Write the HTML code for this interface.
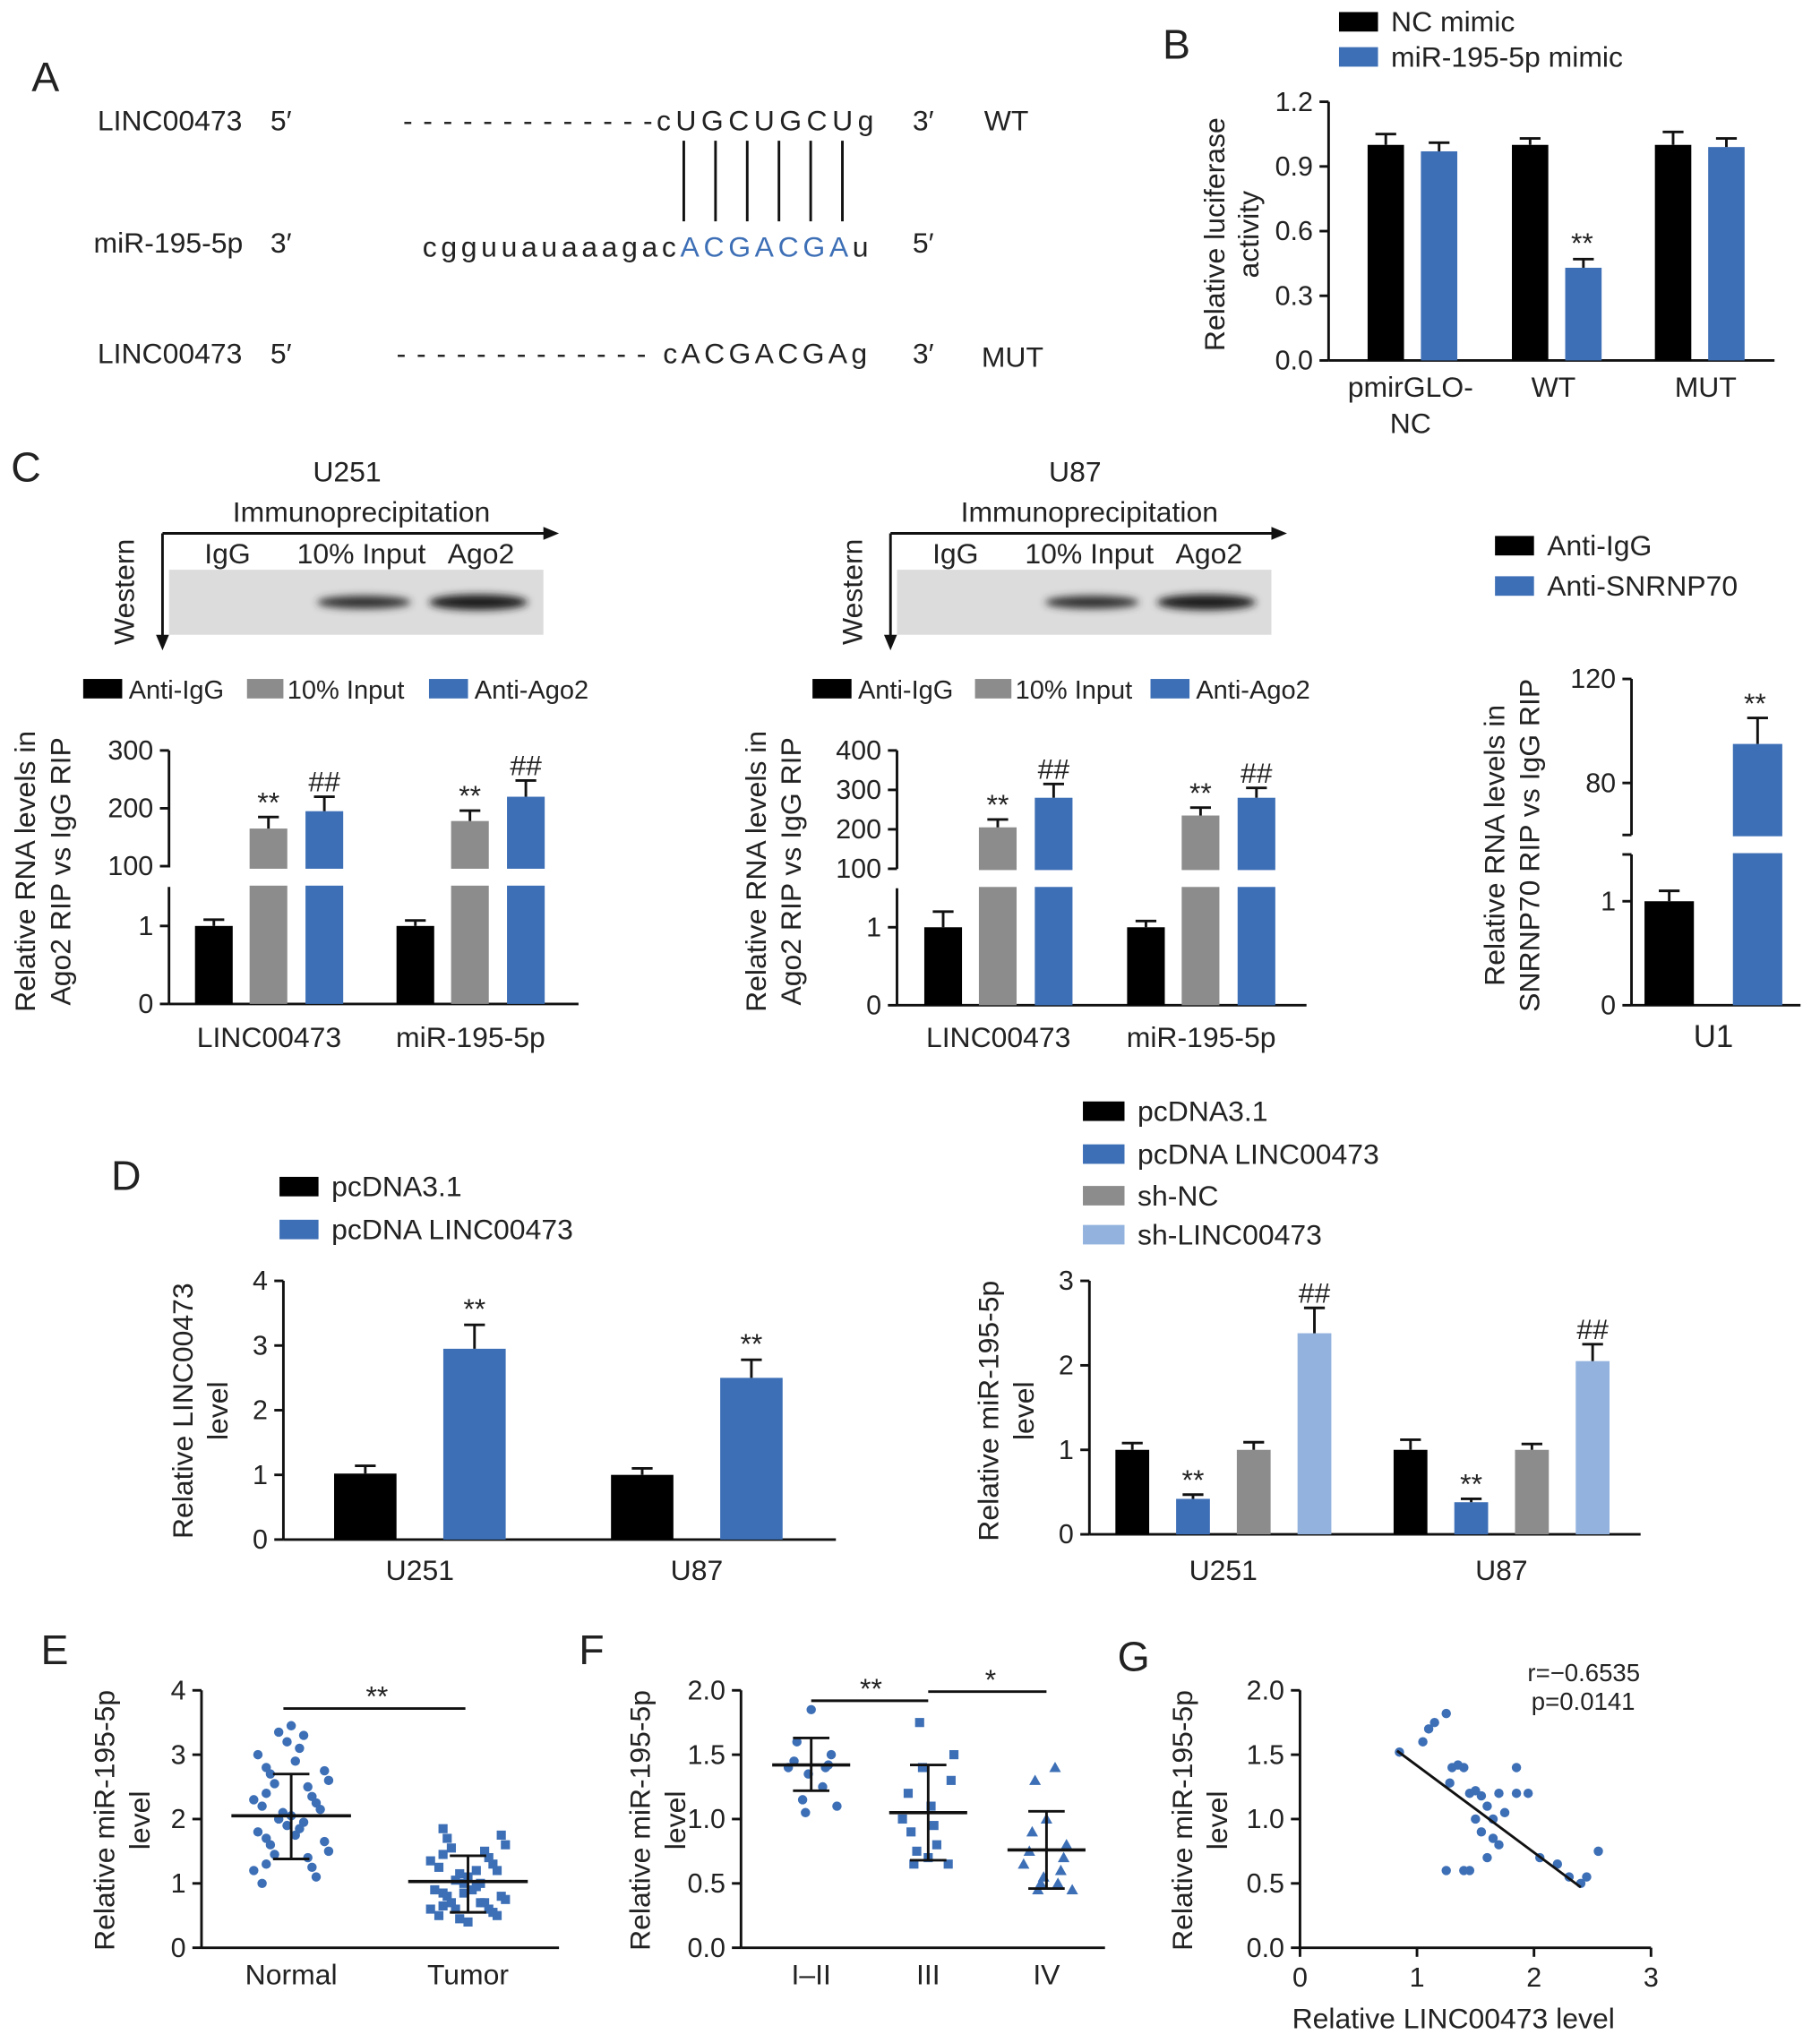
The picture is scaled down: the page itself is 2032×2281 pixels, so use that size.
<!DOCTYPE html>
<html><head><meta charset="utf-8">
<style>
html,body{margin:0;padding:0;background:#fff;}
svg{display:block;font-family:"Liberation Sans",Arial,sans-serif;}
</style></head>
<body>
<svg id="fig" width="2032" height="2281" viewBox="0 0 1400 1571" xmlns="http://www.w3.org/2000/svg">
<defs><filter id="blur" x="-50%" y="-100%" width="200%" height="300%"><feGaussianBlur stdDeviation="3"/></filter></defs>
</svg>
<script>
// ---------- data ----------
const lucCats = ["pmirGLO-NC","WT","MUT"];
const lucNC = [1.0,1.0,1.0];
const lucMimic = [0.97,0.43,0.99];
const lucNCErr = [0.05,0.03,0.06];
const lucMimicErr = [0.04,0.04,0.04];

const ripCats = ["LINC00473","miR-195-5p"];
const u251IgG = [1.0,1.0];
const u251Input = [165,178];
const u251Ago2 = [195,220];
const u251IgGErr = [0.08,0.07];
const u251InputErr = [20,18];
const u251Ago2Err = [25,28];
const u87IgG = [1.0,1.0];
const u87Input = [205,235];
const u87Ago2 = [280,280];
const u87IgGErr = [0.2,0.08];
const u87InputErr = [20,20];
const u87Ago2Err = [35,25];

const u1IgG = [1.0];
const u1SNRNP = [95];
const u1IgGErr = [0.1];
const u1SNRNPErr = [10];

const cellCats = ["U251","U87"];
const linPc = [1.02,1.0];
const linPcL = [2.95,2.5];
const linPcErr = [0.12,0.1];
const linPcLErr = [0.37,0.28];

const mirPc = [1.0,1.0];
const mirPcL = [0.42,0.38];
const mirShNC = [1.0,1.0];
const mirShL = [2.38,2.05];
const mirPcErr = [0.08,0.12];
const mirPcLErr = [0.05,0.04];
const mirShNCErr = [0.09,0.07];
const mirShLErr = [0.3,0.2];

const eNormal = [3.45,3.35,3.3,3.2,3.1,3.0,2.9,2.8,2.75,2.7,2.6,2.55,2.5,2.4,2.35,2.3,2.25,2.2,2.15,2.1,2.05,2.0,1.95,1.9,1.85,1.8,1.75,1.7,1.65,1.6,1.5,1.45,1.4,1.3,1.25,1.2,1.1,1.0];
const eTumor = [1.85,1.75,1.7,1.6,1.55,1.5,1.45,1.4,1.35,1.3,1.25,1.2,1.15,1.1,1.05,1.0,1.0,0.95,0.9,0.9,0.85,0.8,0.8,0.75,0.7,0.7,0.65,0.6,0.6,0.55,0.5,0.5,0.45,0.4,0.6,0.7,0.85,1.2];
const eStats = [[2.05,1.38,2.7],[1.03,0.55,1.43]];

const fI = [1.85,1.6,1.5,1.45,1.42,1.4,1.4,1.35,1.25,1.15,1.1,1.05];
const fIII = [1.75,1.5,1.4,1.3,1.2,1.1,1.0,0.95,0.9,0.8,0.75,0.7,0.65,0.65];
const fIV = [1.4,1.3,1.0,0.9,0.8,0.75,0.7,0.65,0.6,0.55,0.5,0.45,0.45,0.5];
const fStats = [[1.42,1.22,1.63],[1.05,0.68,1.42],[0.76,0.46,1.06]];

const gX = [0.85,1.05,1.1,1.15,1.25,1.3,1.35,1.4,1.28,1.45,1.5,1.55,1.6,1.65,1.7,1.75,1.85,1.85,1.95,1.25,1.4,1.45,1.6,1.65,1.7,2.05,2.2,2.3,2.4,2.45,2.55,1.55,1.5];
const gY = [1.52,1.6,1.7,1.75,1.82,1.4,1.42,1.4,1.28,1.2,1.22,1.18,1.1,1.0,1.2,1.05,1.4,1.2,1.2,0.6,0.6,0.6,0.7,0.85,0.8,0.7,0.65,0.55,0.5,0.55,0.75,0.9,1.0];
const gFit = [[0.83,1.53],[2.4,0.47]];

// ---------- helpers ----------
const svg = document.getElementById('fig');
const NS = 'http://www.w3.org/2000/svg';
const BLUE = '#3d6fb6', GRAY = '#8c8c8c', LBLUE = '#93b3de', BLACK = '#000';
function el(tag, attrs, name, parent) {
  const e = document.createElementNS(NS, tag);
  for (const k in attrs) e.setAttribute(k, attrs[k]);
  
  
  (parent || svg).appendChild(e);
  return e;
}
function T(x, y, s, name, o) {
  o = o || {};
  const a = {x: x, y: y, 'font-size': o.size || 21, 'text-anchor': o.anchor || 'middle', fill: o.fill || '#222'};
  if (o.rot) a.transform = 'rotate(-90 ' + x + ' ' + y + ')';
  if (o.len) { a.textLength = o.len; a.lengthAdjust = 'spacing'; }
  const t = el('text', a, name);
  t.textContent = s;
  return t;
}
function L(x1, y1, x2, y2, name, w) {
  return el('line', {x1: x1, y1: y1, x2: x2, y2: y2, stroke: '#111', 'stroke-width': w || 2}, name);
}
function lin(v0, v1, p0, p1) { return v => p0 + (v - v0) * (p1 - p0) / (v1 - v0); }
function bar(x, w, y0, yv, color, name) {
  return el('rect', {x: x, y: Math.min(y0, yv), width: w, height: Math.abs(y0 - yv), fill: color}, name);
}
function err(cx, yTop, yErr, name) {
  L(cx, yTop, cx, yErr, name, 2);
  L(cx - 8, yErr, cx + 8, yErr, name + '-cap', 2);
}
function yTicks(ax, vals, sc, labels, name) {
  vals.forEach((v, i) => {
    L(ax - 7, sc(v), ax, sc(v), name + '-tick');
    T(ax - 12, sc(v) + 7, labels[i], name + '-label', {anchor: 'end', size: 21});
  });
}
function legend(x, y, color, s, name, w, size, gap) {
  el('rect', {x: x, y: y - 8, width: w || 30, height: 15, fill: color}, name + '-swatch');
  T(x + (w || 30) + (gap || 10), y + 7, s, name, {anchor: 'start', size: size || 22});
}

// ---------- Panel A ----------
T(35, 70, 'A', 'panel-a-label', {size: 32, anchor: 'middle'});
T(75, 100, 'LINC00473', 'wt-name', {anchor: 'start', size: 22});
T(208, 100, '5′', 'wt-5', {anchor: 'start', size: 22});
T(310, 100, '- - - - - - - - - - - - -', 'wt-dashes', {anchor: 'start', size: 22, len: 192});
T(505, 100, 'cUGCUGCUg', 'wt-seq', {anchor: 'start', size: 22, len: 167});
T(702, 100, '3′', 'wt-3', {anchor: 'start', size: 22});
T(757, 100, 'WT', 'wt-tag', {anchor: 'start', size: 22});
for (let i = 0; i < 6; i++) L(526 + i * 24.4, 108, 526 + i * 24.4, 170, 'pair-line');
T(72, 194, 'miR-195-5p', 'mir-name', {anchor: 'start', size: 22});
T(208, 194, '3′', 'mir-3', {anchor: 'start', size: 22});
(function(){ const t = T(325, 197, '', 'mir-seq', {anchor: 'start', size: 22, len: 343});
  const a = document.createElementNS(NS,'tspan'); a.textContent='cgguuauaaagac'; t.appendChild(a);
  const b = document.createElementNS(NS,'tspan'); b.textContent='ACGACGA'; b.setAttribute('fill', BLUE); t.appendChild(b);
  const c = document.createElementNS(NS,'tspan'); c.textContent='u'; t.appendChild(c); })();
T(702, 194, '5′', 'mir-5', {anchor: 'start', size: 22});
T(75, 279, 'LINC00473', 'mut-name', {anchor: 'start', size: 22});
T(208, 279, '5′', 'mut-5', {anchor: 'start', size: 22});
T(305, 279, '- - - - - - - - - - - - -', 'mut-dashes', {anchor: 'start', size: 22, len: 192});
T(510, 279, 'cACGACGAg', 'mut-seq', {anchor: 'start', size: 22, len: 157});
T(702, 279, '3′', 'mut-3', {anchor: 'start', size: 22});
T(755, 282, 'MUT', 'mut-tag', {anchor: 'start', size: 22});

// ---------- Panel B ----------
T(905, 45, 'B', 'panel-b-label', {size: 32});
legend(1030, 17, BLACK, 'NC mimic', 'legend-nc-mimic');
legend(1030, 44, BLUE, 'miR-195-5p mimic', 'legend-mir-mimic');
(function(){
  const ax = 1022, sy = lin(0, 1.2, 277, 78);
  L(ax, 78, ax, 277, 'b-y-axis'); L(ax, 277, 1365, 277, 'b-x-axis');
  const tv = [0, 0.3, 0.6, 0.9, 1.2];
  yTicks(ax, tv, sy, tv.map(v => v.toFixed(1)), 'b-y');
  const gx = [1052, 1163, 1273];
  lucCats.forEach((c, i) => {
    bar(gx[i], 28, sy(0), sy(lucNC[i]), BLACK, 'bar-nc-' + c);
    err(gx[i] + 14, sy(lucNC[i]), sy(lucNC[i] + lucNCErr[i]), 'err-nc');
    bar(gx[i] + 41, 28, sy(0), sy(lucMimic[i]), BLUE, 'bar-mimic-' + c);
    err(gx[i] + 55, sy(lucMimic[i]), sy(lucMimic[i] + lucMimicErr[i]), 'err-mimic');
  });
  T(1217, 194, '**', 'b-sig', {size: 22});
  T(1085, 305, 'pmirGLO-', 'b-xlabel-1', {size: 22}); T(1085, 333, 'NC', 'b-xlabel-1b', {size: 22});
  T(1195, 305, 'WT', 'b-xlabel-2', {size: 22}); T(1312, 305, 'MUT', 'b-xlabel-3', {size: 22});
  T(942, 180, 'Relative luciferase', 'b-y-title', {rot: true, size: 22});
  T(968, 180, 'activity', 'b-y-title-2', {rot: true, size: 22});
})();

// ---------- Panel C ----------
T(20, 370, 'C', 'panel-c-label', {size: 32});
function ripBlock(ox, cellName, igg, inp, ago, iggE, inpE, agoE, upTicks, upSc, loSc, breakTop, breakBot, px, legX) {
  T(ox + 142, 370, cellName, 'c-cell-' + cellName, {size: 22});
  T(ox + 153, 401, 'Immunoprecipitation', 'c-ip-' + cellName, {size: 22});
  L(ox, 410, ox + 295, 410, 'c-ip-arrow'); el('path', {d: 'M' + (ox + 305) + ' 410 l-12 -5 l0 10 z', fill: '#111'}, 'c-arrowhead');
  L(ox, 410, ox, 490, 'c-west-arrow'); el('path', {d: 'M' + ox + ' 500 l-5 -12 l10 0 z', fill: '#111'}, 'c-arrowhead-v');
  T(ox - 22, 455, 'Western', 'c-western-' + cellName, {rot: true, size: 22});
  T(ox + 50, 433, 'IgG', 'c-lane-igg', {size: 22}); T(ox + 153, 433, '10% Input', 'c-lane-input', {size: 22}); T(ox + 245, 433, 'Ago2', 'c-lane-ago2', {size: 22});
  el('rect', {x: ox + 5, y: 438, width: 288, height: 50, fill: '#dcdcdc'}, 'c-blot-' + cellName);
  el('ellipse', {cx: ox + 155, cy: 463, rx: 36, ry: 5, fill: '#333', filter: 'url(#blur)'}, 'c-band-input');
  el('ellipse', {cx: ox + 243, cy: 463, rx: 38, ry: 6, fill: '#1a1a1a', filter: 'url(#blur)'}, 'c-band-ago2');
  legend(legX[0], 530, BLACK, 'Anti-IgG', 'legend-anti-igg', 30, 20, 5);
  legend(legX[1], 530, GRAY, '10% Input', 'legend-input', 28, 20, 3);
  legend(legX[2], 530, BLUE, 'Anti-Ago2', 'legend-anti-ago2', 30, 20, 5);
  const ax = ox + 5;
  const sy = v => v <= 1.5 ? loSc(v) : upSc(v);
  L(ax, upSc(upTicks[upTicks.length - 1]), ax, breakTop, 'c-y-axis-upper');
  L(ax, breakBot, ax, loSc(0), 'c-y-axis-lower');
  L(ax, loSc(0), ax + 315, loSc(0), 'c-x-axis');
  yTicks(ax, upTicks, upSc, upTicks.map(String), 'c-y-upper');
  yTicks(ax, [0, 1], loSc, ['0', '1'], 'c-y-lower');
  ripCats.forEach((c, i) => {
    const b = ax + px[i];
    bar(b, 29, loSc(0), sy(igg[i]), BLACK, 'bar-igg-' + c);
    err(b + 14.5, sy(igg[i]), sy(igg[i] + iggE[i]), 'err-igg');
    bar(b + 42, 29, loSc(0), sy(inp[i]), GRAY, 'bar-input-' + c);
    err(b + 56.5, sy(inp[i]), sy(inp[i] + inpE[i]), 'err-input');
    T(b + 56.5, sy(inp[i] + inpE[i]) - 4, '**', 'c-sig-input', {size: 22});
    bar(b + 85, 29, loSc(0), sy(ago[i]), BLUE, 'bar-ago2-' + c);
    err(b + 99.5, sy(ago[i]), sy(ago[i] + agoE[i]), 'err-ago2');
    T(b + 99.5, sy(ago[i] + agoE[i]) - 4, '##', 'c-sig-ago2', {size: 22});
    T(b + 57, 805, c, 'c-xlabel-' + c, {size: 22});
  });
  el('rect', {x: ax + 3, y: breakTop + 1, width: 310, height: breakBot - breakTop - 2, fill: '#fff'}, 'c-axis-break');
}
ripBlock(125, 'U251', u251IgG, u251Input, u251Ago2, u251IgGErr, u251InputErr, u251Ago2Err,
  [100, 200, 300], lin(100, 300, 666, 577), lin(0, 1, 772, 712), 667, 682, [20, 175], [64, 190, 330]);
T(27, 670, 'Relative RNA levels in', 'c-y-title-u251', {rot: true, size: 22});
T(54, 670, 'Ago2 RIP vs IgG RIP', 'c-y-title-u251-2', {rot: true, size: 22});
ripBlock(685, 'U87', u87IgG, u87Input, u87Ago2, u87IgGErr, u87InputErr, u87Ago2Err,
  [100, 200, 300, 400], lin(100, 400, 668, 577), lin(0, 1, 773, 713), 668, 683, [21, 177], [625, 750, 885]);
T(589, 670, 'Relative RNA levels in', 'c-y-title-u87', {rot: true, size: 22});
T(616, 670, 'Ago2 RIP vs IgG RIP', 'c-y-title-u87-2', {rot: true, size: 22});

// U1 panel
(function(){
  legend(1150, 420, BLACK, 'Anti-IgG', 'legend-u1-anti-igg', 30);
  legend(1150, 451, BLUE, 'Anti-SNRNP70', 'legend-u1-anti-snrnp70', 30);
  const ax = 1255, up = lin(80, 120, 602, 522), lo = lin(0, 1, 773, 693);
  const sy = v => v <= 1.5 ? lo(v) : up(v);
  L(ax, 522, ax, 642, 'u1-y-axis-upper'); L(ax, 657, ax, 773, 'u1-y-axis-lower');
  L(ax - 7, 642, ax, 642, 'u1-break-tick'); L(ax - 7, 657, ax, 657, 'u1-break-tick');
  L(ax, 773, 1385, 773, 'u1-x-axis');
  yTicks(ax, [80, 120], up, ['80', '120'], 'u1-y-upper');
  yTicks(ax, [0, 1], lo, ['0', '1'], 'u1-y-lower');
  bar(1265, 38, lo(0), sy(u1IgG[0]), BLACK, 'bar-u1-igg');
  err(1284, sy(u1IgG[0]), sy(u1IgG[0] + u1IgGErr[0]), 'err-u1-igg');
  bar(1333, 38, lo(0), sy(u1SNRNP[0]), BLUE, 'bar-u1-snrnp70');
  err(1352, sy(u1SNRNP[0]), sy(u1SNRNP[0] + u1SNRNPErr[0]), 'err-u1-snrnp70');
  el('rect', {x: 1258, y: 643, width: 125, height: 13, fill: '#fff'}, 'u1-axis-break');
  T(1350, 548, '**', 'u1-sig', {size: 22});
  T(1318, 805, 'U1', 'u1-xlabel', {size: 24});
  T(1157, 650, 'Relative RNA levels in', 'u1-y-title', {rot: true, size: 22});
  T(1184, 650, 'SNRNP70 RIP vs IgG RIP', 'u1-y-title-2', {rot: true, size: 22});
})();

// ---------- Panel D ----------
T(97, 915, 'D', 'panel-d-label', {size: 32});
legend(215, 913, BLACK, 'pcDNA3.1', 'legend-d-pcdna', 30);
legend(215, 946, BLUE, 'pcDNA LINC00473', 'legend-d-pcdna-linc', 30);
(function(){
  const ax = 218, sy = lin(0, 4, 1184, 985);
  L(ax, 985, ax, 1184, 'd1-y-axis'); L(ax, 1184, 643, 1184, 'd1-x-axis');
  yTicks(ax, [0,1,2,3,4], sy, ['0','1','2','3','4'], 'd1-y');
  const gx = [257, 470];
  cellCats.forEach((c, i) => {
    bar(gx[i], 48, sy(0), sy(linPc[i]), BLACK, 'bar-d1-pcdna-' + c);
    err(gx[i] + 24, sy(linPc[i]), sy(linPc[i] + linPcErr[i]), 'err-d1-pcdna');
    bar(gx[i] + 84, 48, sy(0), sy(linPcL[i]), BLUE, 'bar-d1-pcdna-linc-' + c);
    err(gx[i] + 108, sy(linPcL[i]), sy(linPcL[i] + linPcLErr[i]), 'err-d1-linc');
    T(gx[i] + 108, sy(linPcL[i] + linPcLErr[i]) - 5, '**', 'd1-sig', {size: 22});
    T(gx[i] + 66, 1215, c, 'd1-xlabel-' + c, {size: 22});
  });
  T(148, 1085, 'Relative LINC00473', 'd1-y-title', {rot: true, size: 22});
  T(175, 1085, 'level', 'd1-y-title-2', {rot: true, size: 22});
})();
legend(833, 855, BLACK, 'pcDNA3.1', 'legend-d2-pcdna', 32);
legend(833, 888, BLUE, 'pcDNA LINC00473', 'legend-d2-pcdna-linc', 32);
legend(833, 920, GRAY, 'sh-NC', 'legend-d2-shnc', 32);
legend(833, 950, LBLUE, 'sh-LINC00473', 'legend-d2-shlinc', 32);
(function(){
  const ax = 838, sy = lin(0, 3, 1180, 985);
  L(ax, 985, ax, 1180, 'd2-y-axis'); L(ax, 1180, 1262, 1180, 'd2-x-axis');
  yTicks(ax, [0,1,2,3], sy, ['0','1','2','3'], 'd2-y');
  const gx = [858, 1072];
  const ser = [[mirPc, mirPcErr, BLACK, '', 'pcdna'], [mirPcL, mirPcLErr, BLUE, '**', 'pcdna-linc'], [mirShNC, mirShNCErr, GRAY, '', 'shnc'], [mirShL, mirShLErr, LBLUE, '##', 'shlinc']];
  cellCats.forEach((c, i) => {
    ser.forEach((s, j) => {
      const x = gx[i] + j * 46.7;
      bar(x, 26, sy(0), sy(s[0][i]), s[2], 'bar-d2-' + s[4] + '-' + c);
      err(x + 13, sy(s[0][i]), sy(s[0][i] + s[1][i]), 'err-d2-' + s[4]);
      if (s[3]) T(x + 13, sy(s[0][i] + s[1][i]) - 4, s[3], 'd2-sig', {size: 22});
    });
    T(gx[i] + 83, 1215, c, 'd2-xlabel-' + c, {size: 22});
  });
  T(768, 1085, 'Relative miR-195-5p', 'd2-y-title', {rot: true, size: 22});
  T(795, 1085, 'level', 'd2-y-title-2', {rot: true, size: 22});
})();

// ---------- Panel E ----------
function marker(shape, x, y, name) {
  if (shape === 'c') return el('circle', {cx: x, cy: y, r: 3.6, fill: BLUE}, name);
  if (shape === 's') return el('rect', {x: x - 3.5, y: y - 3.5, width: 7, height: 7, fill: BLUE}, name);
  return el('path', {d: 'M' + x + ' ' + (y - 4.5) + ' l4.5 8 l-9 0 z', fill: BLUE}, name);
}
function meanSd(cx, st, sy, hw, name) {
  L(cx - hw, sy(st[0]), cx + hw, sy(st[0]), name + '-mean', 2.5);
  L(cx, sy(st[1]), cx, sy(st[2]), name + '-sd', 2);
  L(cx - 14, sy(st[1]), cx + 14, sy(st[1]), name + '-sd-low', 2);
  L(cx - 14, sy(st[2]), cx + 14, sy(st[2]), name + '-sd-high', 2);
}
const JIT = [0, -6, 5, -3, 8, -9, 3, -5, 6, -1, 9, -7, 2, -4, 7, -8, 4, -2, 1, -6];
T(42, 1280, 'E', 'panel-e-label', {size: 32});
(function(){
  const ax = 155, sy = lin(0, 4, 1498, 1300);
  L(ax, 1300, ax, 1498, 'e-y-axis'); L(ax, 1498, 430, 1498, 'e-x-axis');
  yTicks(ax, [0,1,2,3,4], sy, ['0','1','2','3','4'], 'e-y');
  const cx = [224, 360];
  [eNormal, eTumor].forEach((arr, g) => {
    arr.forEach((v, i) => {
      const jit = JIT[(i * 3 + g) % JIT.length] * 3.2;
      marker(g === 0 ? 'c' : 's', cx[g] + jit, sy(v), g === 0 ? 'point-normal' : 'point-tumor');
    });
    meanSd(cx[g], eStats[g], sy, 46, g === 0 ? 'e-normal' : 'e-tumor');
  });
  L(218, 1314, 358, 1314, 'e-sig-line');
  T(290, 1312, '**', 'e-sig', {size: 22});
  T(224, 1526, 'Normal', 'e-xlabel-normal', {size: 22}); T(360, 1526, 'Tumor', 'e-xlabel-tumor', {size: 22});
  T(88, 1400, 'Relative miR-195-5p', 'e-y-title', {rot: true, size: 22});
  T(115, 1400, 'level', 'e-y-title-2', {rot: true, size: 22});
})();

// ---------- Panel F ----------
T(455, 1280, 'F', 'panel-f-label', {size: 32});
(function(){
  const ax = 570, sy = lin(0, 2, 1498, 1300);
  L(ax, 1300, ax, 1498, 'f-y-axis'); L(ax, 1498, 850, 1498, 'f-x-axis');
  const tv = [0, 0.5, 1, 1.5, 2];
  yTicks(ax, tv, sy, tv.map(v => v.toFixed(1)), 'f-y');
  const cx = [624, 714, 805], sh = ['c', 's', 't'], labs = ['I–II', 'III', 'IV'];
  [fI, fIII, fIV].forEach((arr, g) => {
    arr.forEach((v, i) => {
      const jit = JIT[(i * 7 + g * 3) % JIT.length] * 2.2;
      marker(sh[g], cx[g] + jit, sy(v), 'point-stage-' + g);
    });
    meanSd(cx[g], fStats[g], sy, 30, 'f-stage-' + g);
    T(cx[g], 1526, labs[g], 'f-xlabel-' + g, {size: 22});
  });
  L(624, 1308, 714, 1308, 'f-sig-line-1'); T(670, 1306, '**', 'f-sig-1', {size: 22});
  L(714, 1301, 805, 1301, 'f-sig-line-2'); T(762, 1299, '*', 'f-sig-2', {size: 22});
  T(500, 1400, 'Relative miR-195-5p', 'f-y-title', {rot: true, size: 22});
  T(527, 1400, 'level', 'f-y-title-2', {rot: true, size: 22});
})();

// ---------- Panel G ----------
T(872, 1285, 'G', 'panel-g-label', {size: 32});
(function(){
  const ax = 1000, sy = lin(0, 2, 1498, 1300), sx = lin(0, 3, 1000, 1270);
  L(ax, 1300, ax, 1498, 'g-y-axis'); L(ax, 1498, 1270, 1498, 'g-x-axis');
  const tv = [0, 0.5, 1, 1.5, 2];
  yTicks(ax, tv, sy, tv.map(v => v.toFixed(1)), 'g-y');
  [0,1,2,3].forEach(v => { L(sx(v), 1498, sx(v), 1505, 'g-x-tick'); T(sx(v), 1528, String(v), 'g-x-label', {size: 21}); });
  gX.forEach((x, i) => { marker('c', sx(x), sy(gY[i]), 'point-correlation'); });
  L(sx(gFit[0][0]), sy(gFit[0][1]), sx(gFit[1][0]), sy(gFit[1][1]), 'g-fit-line', 2);
  T(1175, 1293, 'r=−0.6535', 'g-r-value', {anchor: 'start', size: 19});
  T(1178, 1315, 'p=0.0141', 'g-p-value', {anchor: 'start', size: 19});
  T(1118, 1560, 'Relative  LINC00473 level', 'g-x-title', {size: 22});
  T(917, 1400, 'Relative miR-195-5p', 'g-y-title', {rot: true, size: 22});
  T(944, 1400, 'level', 'g-y-title-2', {rot: true, size: 22});
})();
</script>
</body></html>
